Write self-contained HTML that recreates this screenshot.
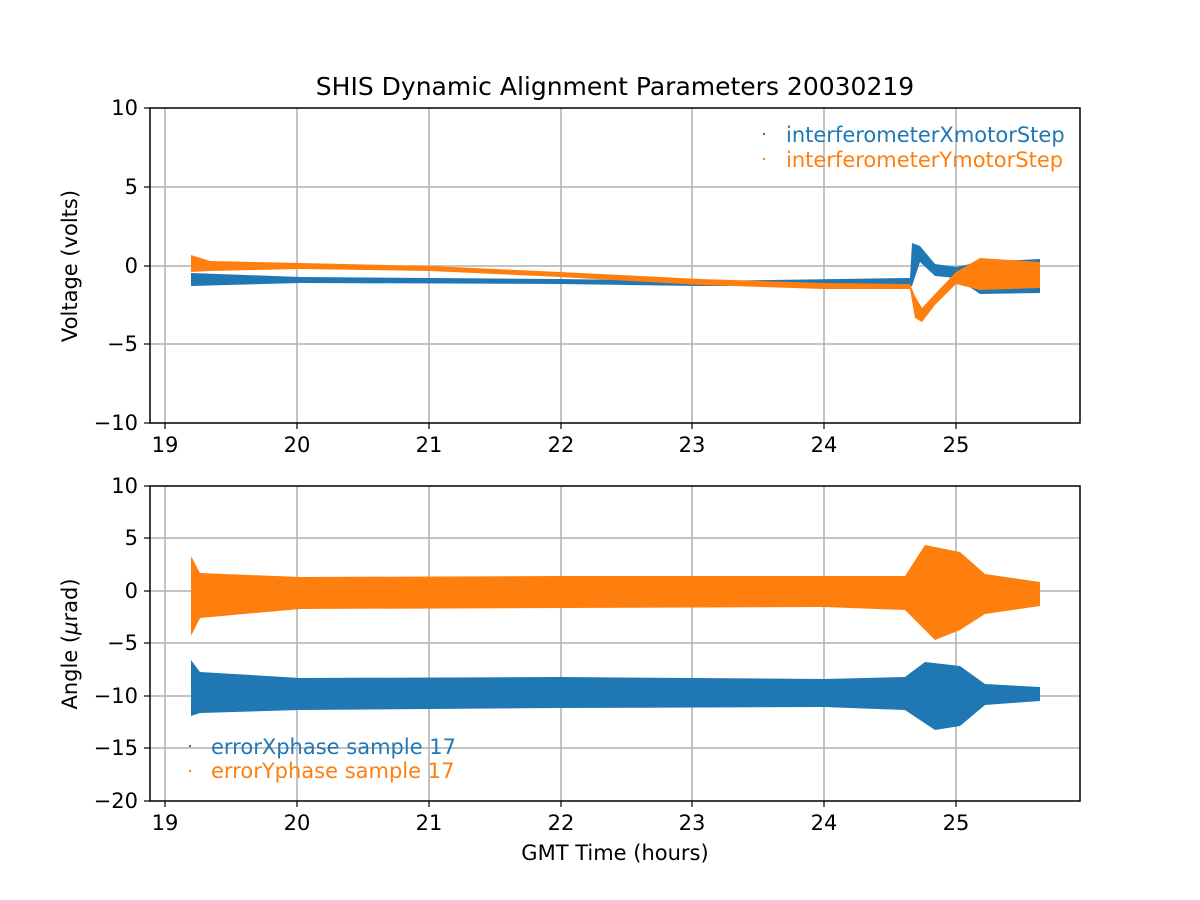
<!DOCTYPE html>
<html><head><meta charset="utf-8"><style>
body{margin:0;background:#fff}
svg{display:block;font-family:"DejaVu Sans","Liberation Sans",sans-serif}
</style></head><body>
<svg width="1200" height="900" viewBox="0 0 1200 900" xmlns="http://www.w3.org/2000/svg">
<rect width="1200" height="900" fill="#fff"/>
<text x="615" y="95" font-size="25" text-anchor="middle">SHIS Dynamic Alignment Parameters 20030219</text>
<g stroke="#b0b0b0" stroke-width="1.5">
<line x1="165" y1="108" x2="165" y2="423"/><line x1="297" y1="108" x2="297" y2="423"/><line x1="429" y1="108" x2="429" y2="423"/><line x1="561" y1="108" x2="561" y2="423"/><line x1="692" y1="108" x2="692" y2="423"/><line x1="824" y1="108" x2="824" y2="423"/><line x1="956" y1="108" x2="956" y2="423"/>
<line x1="150" y1="187" x2="1080" y2="187"/><line x1="150" y1="266" x2="1080" y2="266"/><line x1="150" y1="344" x2="1080" y2="344"/>
<line x1="165" y1="486" x2="165" y2="801"/><line x1="297" y1="486" x2="297" y2="801"/><line x1="429" y1="486" x2="429" y2="801"/><line x1="561" y1="486" x2="561" y2="801"/><line x1="692" y1="486" x2="692" y2="801"/><line x1="824" y1="486" x2="824" y2="801"/><line x1="956" y1="486" x2="956" y2="801"/>
<line x1="150" y1="538" x2="1080" y2="538"/><line x1="150" y1="591" x2="1080" y2="591"/><line x1="150" y1="643" x2="1080" y2="643"/><line x1="150" y1="696" x2="1080" y2="696"/><line x1="150" y1="748" x2="1080" y2="748"/>
</g>
<polygon fill="#1f77b4" points="191,273 300,277 560,279 700,281 910,278 912,243 920,246 935,264 956,267 980,262 1040,259 1040,293 980,294 956,278 935,276 920,262 912,286 700,286 560,284 300,283 191,286"/>
<polygon fill="#ff7f0e" points="191,255 210,261 300,263 430,266 560,272 700,279 824,283 910,284 915,296 922,308 935,294 956,272 980,258 1040,262 1040,288 980,290 956,284 935,305 922,322 915,318 910,289 824,289 700,285 560,277 430,271 300,269 210,271 191,272"/>
<polygon fill="#1f77b4" points="191,660 200,672 300,678 560,677 824,679 905,677 925,662 960,666 985,684 1040,687 1040,701 985,705 960,726 935,730 905,710 824,707 560,708 300,710 200,713 191,716"/>
<polygon fill="#ff7f0e" points="191,556 200,573 300,577 560,576 824,576 905,576 925,545 960,552 985,574 1040,582 1040,606 985,614 960,630 935,640 905,610 824,607 560,608 300,609 200,618 191,636"/>
<rect x="150" y="108" width="930" height="315" fill="none" stroke="#000" stroke-width="1.5"/>
<rect x="150" y="486" width="930" height="315" fill="none" stroke="#000" stroke-width="1.5"/>
<g stroke="#000" stroke-width="1.2">
<line x1="165" y1="423" x2="165" y2="429"/><line x1="297" y1="423" x2="297" y2="429"/><line x1="429" y1="423" x2="429" y2="429"/><line x1="561" y1="423" x2="561" y2="429"/><line x1="692" y1="423" x2="692" y2="429"/><line x1="824" y1="423" x2="824" y2="429"/><line x1="956" y1="423" x2="956" y2="429"/>
<line x1="165" y1="801" x2="165" y2="807"/><line x1="297" y1="801" x2="297" y2="807"/><line x1="429" y1="801" x2="429" y2="807"/><line x1="561" y1="801" x2="561" y2="807"/><line x1="692" y1="801" x2="692" y2="807"/><line x1="824" y1="801" x2="824" y2="807"/><line x1="956" y1="801" x2="956" y2="807"/>
<line x1="144" y1="108" x2="150" y2="108"/><line x1="144" y1="187" x2="150" y2="187"/><line x1="144" y1="266" x2="150" y2="266"/><line x1="144" y1="344" x2="150" y2="344"/><line x1="144" y1="423" x2="150" y2="423"/>
<line x1="144" y1="486" x2="150" y2="486"/><line x1="144" y1="538" x2="150" y2="538"/><line x1="144" y1="591" x2="150" y2="591"/><line x1="144" y1="643" x2="150" y2="643"/><line x1="144" y1="696" x2="150" y2="696"/><line x1="144" y1="748" x2="150" y2="748"/><line x1="144" y1="801" x2="150" y2="801"/>
</g>
<g font-size="21" text-anchor="middle">
<text x="165" y="452">19</text><text x="297" y="452">20</text><text x="429" y="452">21</text><text x="561" y="452">22</text><text x="692" y="452">23</text><text x="824" y="452">24</text><text x="956" y="452">25</text>
<text x="165" y="830">19</text><text x="297" y="830">20</text><text x="429" y="830">21</text><text x="561" y="830">22</text><text x="692" y="830">23</text><text x="824" y="830">24</text><text x="956" y="830">25</text>
</g>
<g font-size="21" text-anchor="end">
<text x="138" y="115">10</text><text x="138" y="194">5</text><text x="138" y="273">0</text><text x="138" y="351">−5</text><text x="138" y="430">−10</text>
<text x="138" y="493">10</text><text x="138" y="545">5</text><text x="138" y="598">0</text><text x="138" y="650">−5</text><text x="138" y="703">−10</text><text x="138" y="755">−15</text><text x="138" y="808">−20</text>
</g>
<text x="615" y="860" font-size="21" text-anchor="middle">GMT Time (hours)</text>
<text transform="translate(77,266) rotate(-90)" font-size="21" text-anchor="middle">Voltage (volts)</text>
<text transform="translate(77,644) rotate(-90)" font-size="21" text-anchor="middle">Angle (<tspan font-style="italic">μ</tspan>rad)</text>
<rect x="763" y="133" width="2" height="2" fill="#1f77b4"/>
<rect x="763" y="158" width="2" height="2" fill="#ff7f0e"/>
<text x="786" y="142" font-size="21" fill="#1f77b4">interferometerXmotorStep</text>
<text x="786" y="167" font-size="21" fill="#ff7f0e">interferometerYmotorStep</text>
<rect x="189" y="745" width="2" height="2" fill="#1f77b4"/>
<rect x="189" y="770" width="2" height="2" fill="#ff7f0e"/>
<text x="211" y="754" font-size="21" fill="#1f77b4">errorXphase sample 17</text>
<text x="211" y="778" font-size="21" fill="#ff7f0e">errorYphase sample 17</text>
</svg>
</body></html>
